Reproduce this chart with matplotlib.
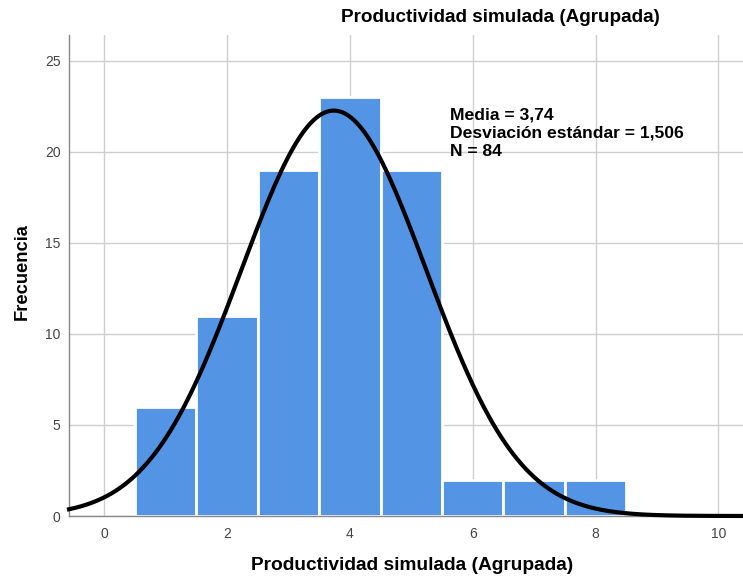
import numpy as np
import matplotlib
matplotlib.use("Agg")
import matplotlib.pyplot as plt

# data
bin_centers = [1, 2, 3, 4, 5, 6, 7, 8]
counts = [6, 11, 19, 23, 19, 2, 2, 2]
mean_val = 3.74
sd_val = 1.506
n_val = 84
x_ticks = [0, 2, 4, 6, 8, 10]
y_ticks = [0, 5, 10, 15, 20, 25]

plt.rcParams['font.family'] = ['Liberation Sans', 'DejaVu Sans']

fig = plt.figure(figsize=(7.43, 5.76), dpi=100)
ax = fig.add_axes([69/743, 1-516/576, 1-69/743, (516-35)/576])

ax.set_xlim(-0.57, 10.4)
ax.set_ylim(0, 26.4)

ax.set_axisbelow(True)
ax.grid(True, color='#cfcfcf', linewidth=1.0)
ax.set_xticks(x_ticks)
ax.set_yticks(y_ticks)

ax.bar(bin_centers, counts, width=1.0, color='#5494e4', edgecolor='white', linewidth=2.0, zorder=2)

xs = np.linspace(-0.57, 10.4, 500)
ys = n_val * 1.0 / (sd_val * np.sqrt(2*np.pi)) * np.exp(-0.5*((xs-mean_val)/sd_val)**2)
ax.plot(xs, ys, color='black', linewidth=3, zorder=3, clip_on=False)

for s in ['top', 'right']:
    ax.spines[s].set_visible(False)
for s in ['left', 'bottom']:
    ax.spines[s].set_color('#888888')
    ax.spines[s].set_linewidth(1.0)
ax.tick_params(axis='both', length=0, labelsize=10, labelcolor='#444444', pad=8)
ax.tick_params(axis='y', pad=6)

line_y = [115, 133, 151]
stat_lines = [f"Media = {mean_val:.2f}".replace('.', ','),
              f"Desviación estándar = {sd_val:.3f}".replace('.', ','),
              f"N = {n_val}"]
for yy, txt in zip(line_y, stat_lines):
    fig.text(450/743, 1-yy/576, txt, fontsize=12.6, fontweight='bold', va='center', ha='left')

fig.text(500/743, 1-18/576, "Productividad simulada (Agrupada)", fontsize=13.6, fontweight='bold',
         ha='center', va='center')
fig.text(412/743, 1-565/576, "Productividad simulada (Agrupada)", fontsize=13.8, fontweight='bold',
         ha='center', va='center')
fig.text(22/743, 1-272/576, "Frecuencia", fontsize=13.2, fontweight='bold', rotation=90,
         ha='center', va='center')

fig.savefig("out.png", dpi=100)
